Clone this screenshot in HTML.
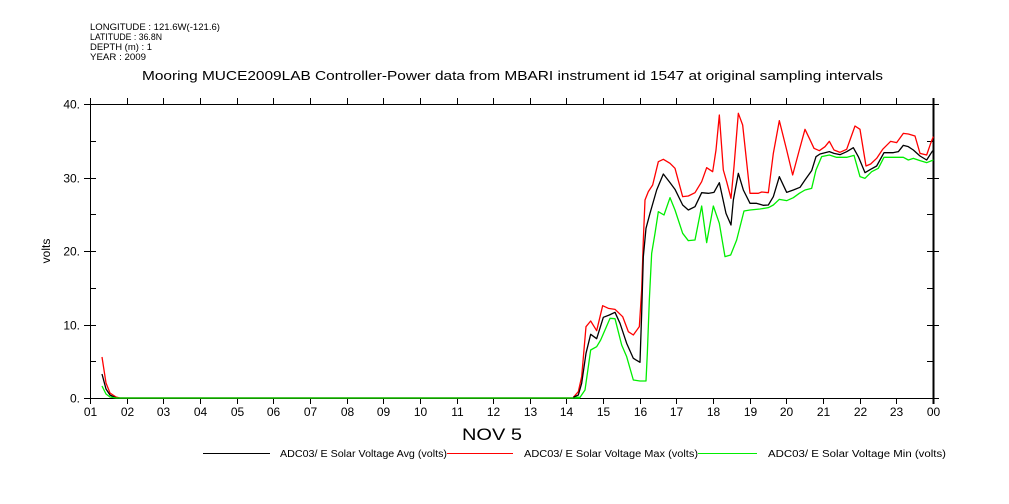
<!DOCTYPE html>
<html><head><meta charset="utf-8"><style>
html,body{margin:0;padding:0;background:#fff;}
svg{display:block;font-family:"Liberation Sans",sans-serif;}
</style></head><body>
<svg width="1009" height="504" viewBox="0 0 1009 504" xmlns="http://www.w3.org/2000/svg">
<g font-size="9" fill="#000">
<text x="90" y="30" textLength="130" lengthAdjust="spacingAndGlyphs">LONGITUDE : 121.6W(-121.6)</text>
<text x="90" y="40" textLength="72" lengthAdjust="spacingAndGlyphs">LATITUDE : 36.8N</text>
<text x="90" y="50" textLength="62" lengthAdjust="spacingAndGlyphs">DEPTH (m) : 1</text>
<text x="90" y="60" textLength="56" lengthAdjust="spacingAndGlyphs">YEAR : 2009</text>
</g>
<text x="142" y="80" font-size="13" textLength="741" lengthAdjust="spacingAndGlyphs">Mooring MUCE2009LAB Controller-Power data from MBARI instrument id 1547 at original sampling intervals</text>
<g stroke="#000" stroke-width="1" fill="none" shape-rendering="crispEdges">
<rect x="90.5" y="104.5" width="843" height="294"/>
<line x1="933.5" y1="98" x2="933.5" y2="404" stroke-width="2"/>
</g>
<g id="ticks" stroke="#000" stroke-width="1" shape-rendering="crispEdges"></g>
<g id="labels" font-size="12" text-anchor="middle"></g>
<text x="462" y="440" font-size="17" textLength="60" lengthAdjust="spacingAndGlyphs">NOV  5</text>
<text transform="translate(50,251) rotate(-90)" font-size="12" text-anchor="middle">volts</text>
<g fill="none" stroke-width="1.3" stroke-linejoin="round">
<polyline stroke="#f00" points="102,357 106,383 110,393 116,397 120,398 573,398"/>
<polyline stroke="#000" points="102,374 106,389 110,395 116,398 573,398"/>
<polyline stroke="#0e0" points="102,386 106,394 110,397 116,398 580,398"/>
<g transform="translate(560,100) scale(0.33333)">
<polyline vector-effect="non-scaling-stroke" stroke="#0e0" points="40,892 60,892 75,870 85,800 92,750 110,740 122,720 135,690 150,655 165,656 185,735 200,770 220,840 240,843 258,843 262,760 268,600 275,460 285,400 295,335 312,345 330,293 345,330 368,400 385,422 405,420 425,318 440,428 460,318 478,370 495,470 512,465 530,420 552,333 570,330 600,327 625,323 640,315 658,298 680,302 700,293 718,280 735,270 755,265 768,210 785,170 808,165 830,172 860,172 882,166 900,230 915,235 935,215 955,205 972,172 1000,172 1030,172 1045,180 1060,175 1080,182 1100,188 1120,180"/>
<polyline vector-effect="non-scaling-stroke" stroke="#f00" points="40,892 55,875 65,830 78,680 92,663 110,692 128,617 145,625 165,628 188,650 205,695 220,705 238,680 245,570 250,420 255,300 265,275 278,255 295,185 310,178 330,190 345,205 368,290 385,288 405,278 425,245 440,203 458,215 468,150 478,45 490,210 500,245 513,295 522,200 535,40 548,75 570,280 595,280 605,276 625,278 640,160 658,62 680,150 698,225 718,150 735,88 748,115 762,145 778,152 795,140 808,124 822,150 840,157 860,148 870,120 885,78 900,88 918,198 932,192 950,175 968,148 992,124 1010,128 1030,100 1045,102 1065,108 1080,160 1100,165 1112,130 1120,110"/>
<polyline vector-effect="non-scaling-stroke" stroke="#000" points="40,892 55,885 65,850 78,760 92,703 110,716 130,652 148,645 165,637 180,670 200,730 220,775 240,787 245,640 250,470 258,385 270,340 290,270 310,222 330,248 345,268 368,315 385,330 405,320 425,278 445,280 462,277 478,248 498,340 513,375 520,300 535,220 550,270 570,310 590,310 610,316 625,315 640,290 658,230 680,277 700,270 720,262 735,240 755,212 768,170 780,162 808,155 822,160 840,164 860,155 880,143 895,170 915,218 932,208 950,198 972,158 1000,158 1015,155 1030,136 1045,140 1060,150 1080,168 1100,180 1118,152"/>
</g>
</g>
<g stroke-width="1" shape-rendering="crispEdges">
<line x1="203" y1="453.5" x2="270" y2="453.5" stroke="#000"/>
<line x1="447" y1="453.5" x2="513" y2="453.5" stroke="#f00"/>
<line x1="698" y1="453.5" x2="757" y2="453.5" stroke="#0e0"/>
</g>
<g font-size="10">
<text x="280" y="457" textLength="167" lengthAdjust="spacingAndGlyphs">ADC03/ E Solar Voltage Avg (volts)</text>
<text x="524" y="457" textLength="174" lengthAdjust="spacingAndGlyphs">ADC03/ E Solar Voltage Max (volts)</text>
<text x="768" y="457" textLength="178" lengthAdjust="spacingAndGlyphs">ADC03/ E Solar Voltage Min (volts)</text>
</g>
<script>
(function(){
var ns="http://www.w3.org/2000/svg",t=document.getElementById("ticks"),l=document.getElementById("labels");
function ln(a,b,c,d){var e=document.createElementNS(ns,"line");e.setAttribute("x1",a);e.setAttribute("y1",b);e.setAttribute("x2",c);e.setAttribute("y2",d);e.setAttribute("stroke","#000");t.appendChild(e);}
function tx(x,y,s,a){var e=document.createElementNS(ns,"text");e.setAttribute("x",x);e.setAttribute("y",y);e.setAttribute("text-anchor",a||"middle");e.textContent=s;l.appendChild(e);}
for(var i=0;i<=23;i++){var x=Math.round(90+i*(843/23))+0.5;ln(x,398,x,404);ln(x,104,x,98);
var h=(i+1)%24;tx(x,416,(h<10?"0":"")+h);}
for(var v=0;v<=40;v+=5){var y=Math.round(398-v*7.35)+0.5;
if(v%10==0){ln(84,y,96,y);ln(927,y,939,y);tx(80,y+4,v+".","end");}else{ln(90,y,96,y);ln(927,y,933,y);}}
})();
</script>
</svg>
</body></html>
